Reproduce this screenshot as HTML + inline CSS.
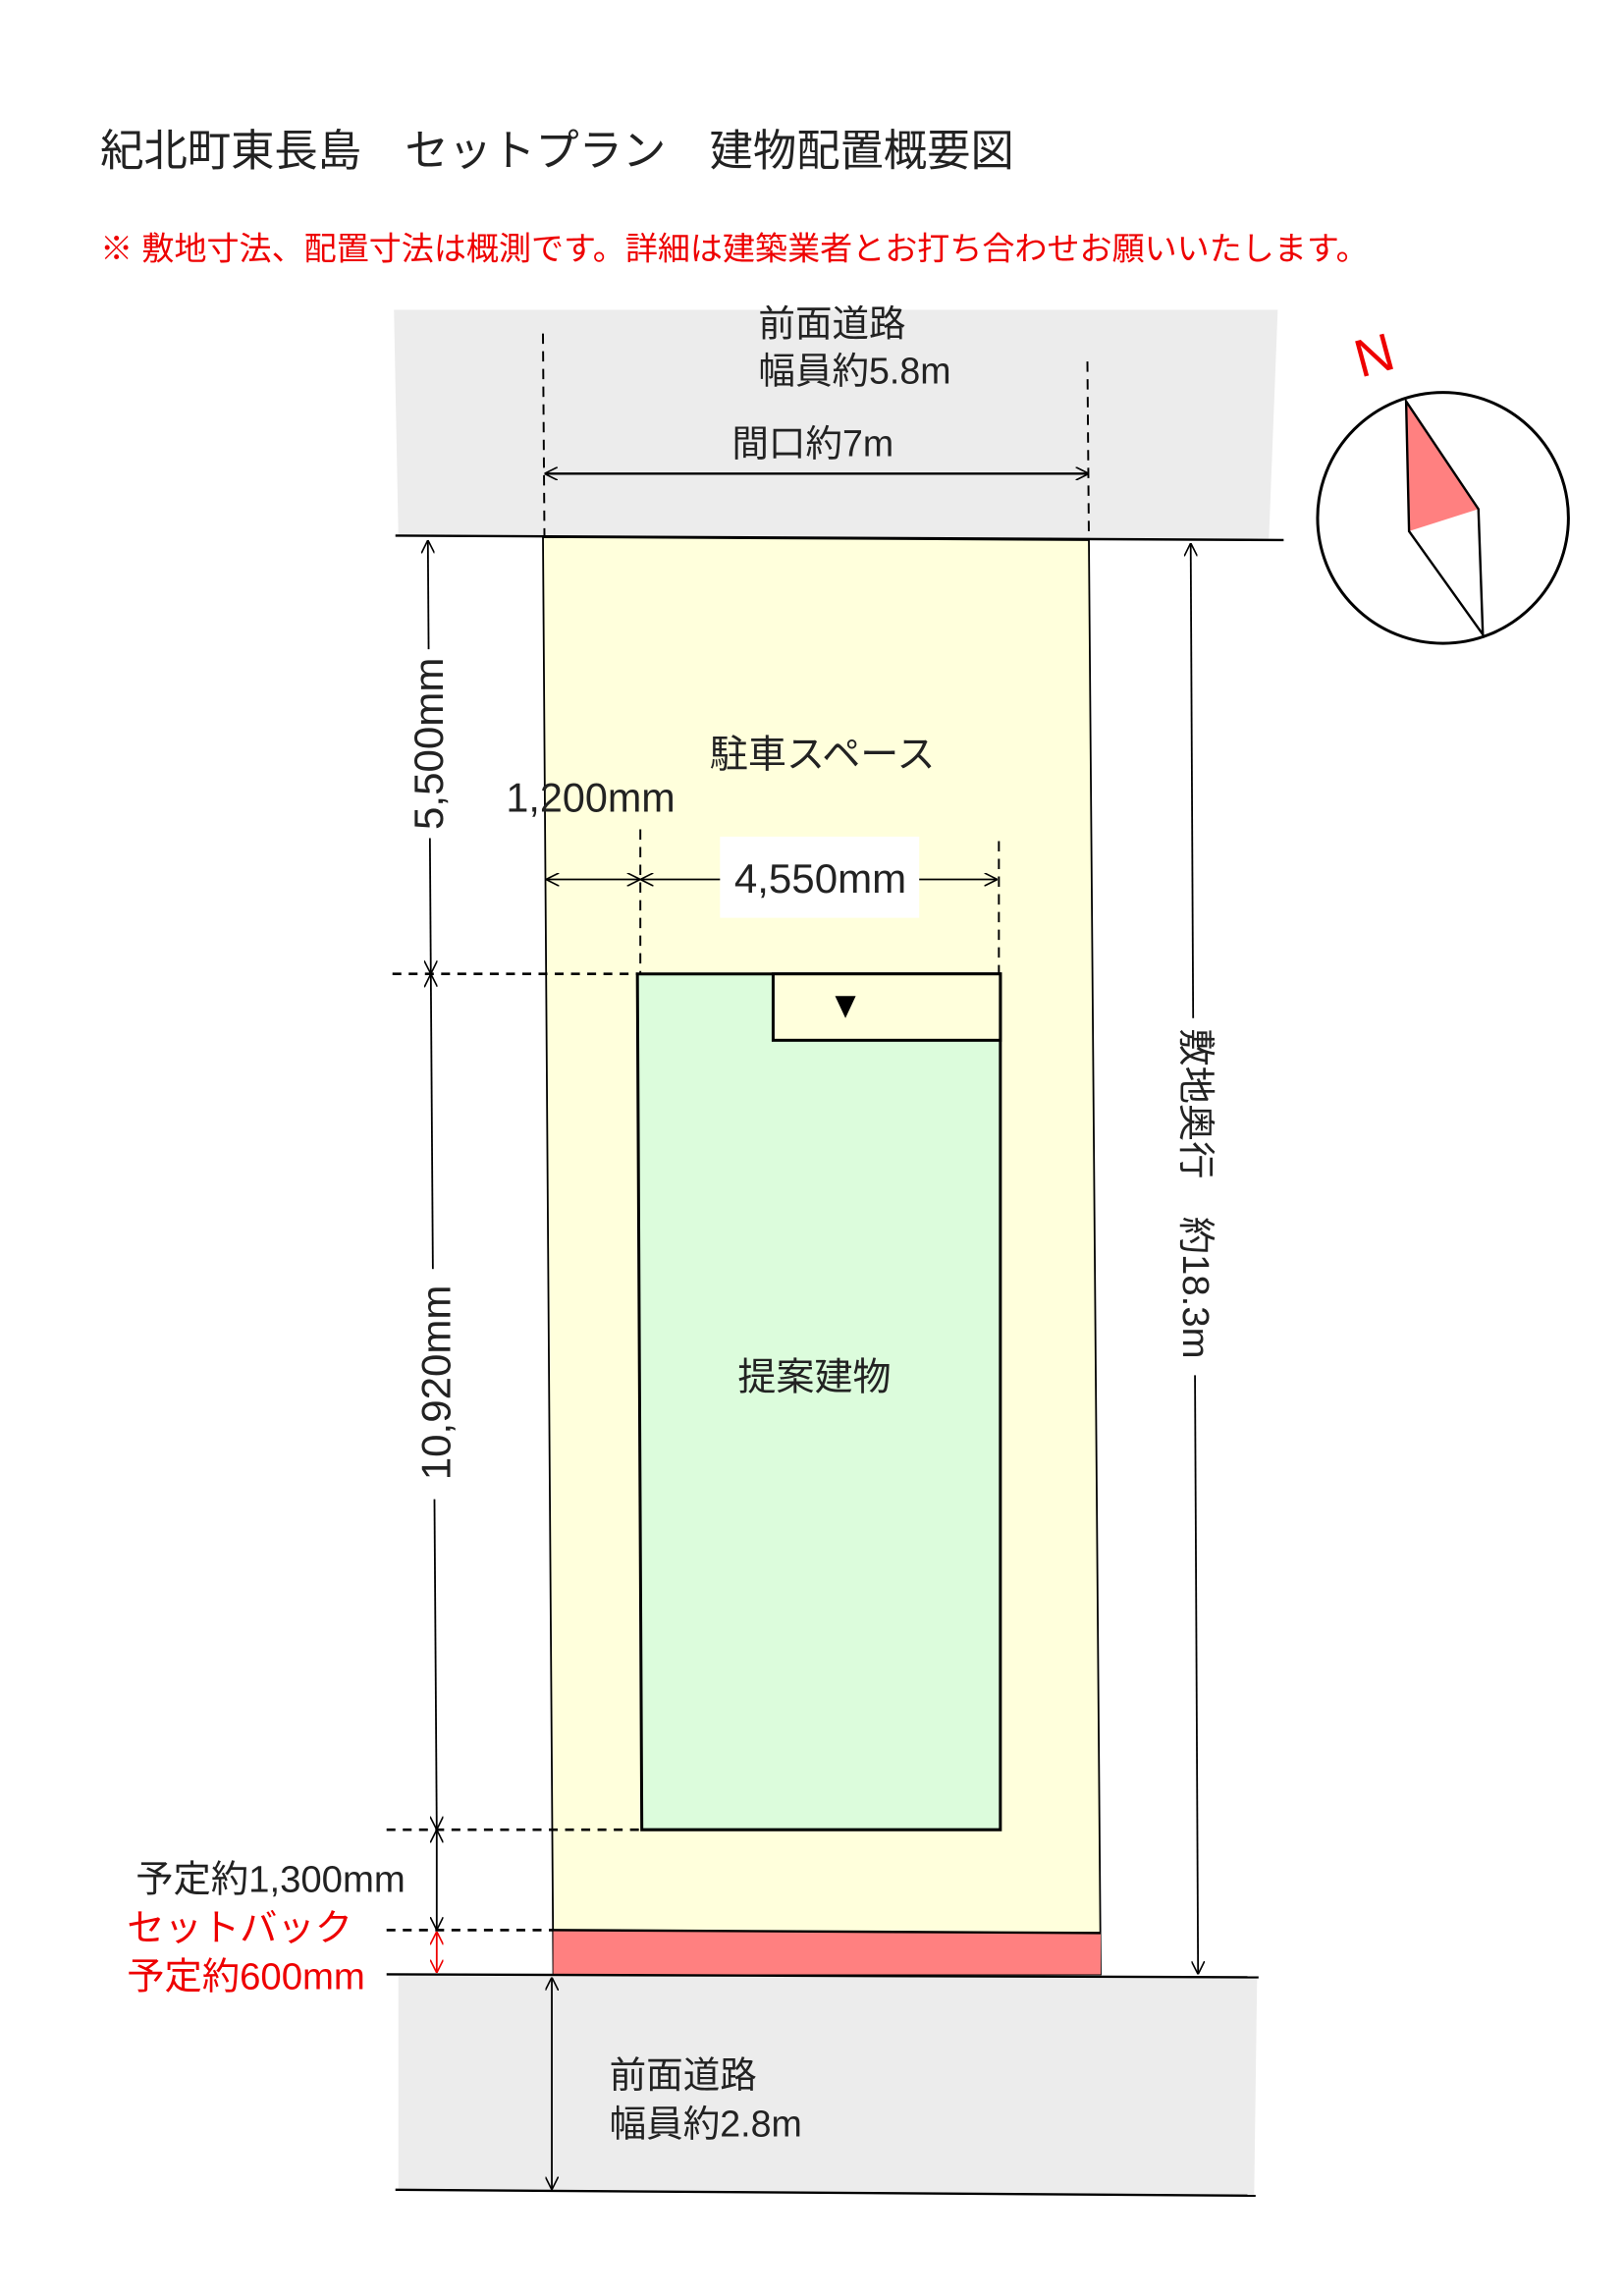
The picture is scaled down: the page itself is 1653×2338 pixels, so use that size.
<!DOCTYPE html>
<html><head><meta charset="utf-8"><style>
html,body{margin:0;padding:0;background:#fff;}
svg{display:block;}
text{font-family:"Liberation Sans","Noto Sans CJK JP",sans-serif;}
</style></head><body>
<svg width="1653" height="2338" viewBox="0 0 1100 1556" preserveAspectRatio="none" xmlns="http://www.w3.org/2000/svg">
<defs>
<marker id="a" viewBox="0 0 10 10" refX="10" refY="5" markerWidth="9" markerHeight="9" orient="auto-start-reverse" markerUnits="userSpaceOnUse"><path d="M0,0 L10,5 L0,10" fill="none" stroke="#000" stroke-width="1.2"/></marker>
<marker id="r" viewBox="0 0 10 10" refX="10" refY="5" markerWidth="9" markerHeight="9" orient="auto-start-reverse" markerUnits="userSpaceOnUse"><path d="M0,0 L10,5 L0,10" fill="none" stroke="#e00" stroke-width="1.2"/></marker>
</defs>
<text x="68" y="112" font-size="29.5" fill="#222">紀北町東長島　セットプラン　建物配置概要図</text>
<text x="68" y="176" font-size="22" fill="#e00">※ 敷地寸法、配置寸法は概測です。詳細は建築業者とお打ち合わせお願いいたします。</text>
<!-- top road -->
<polygon points="267,210 866,210 860,365 270,363" fill="#ececec"/>
<line x1="268" y1="363" x2="870" y2="366" stroke="#000" stroke-width="1.6"/>
<text x="514" y="228" font-size="25" fill="#222">前面道路</text>
<text x="514" y="260" font-size="25" fill="#222">幅員約5.8m</text>
<text x="496" y="309" font-size="25" fill="#222">間口約7m</text>
<line x1="368" y1="226" x2="369" y2="364" stroke="#000" stroke-width="1.3" stroke-dasharray="7,5"/>
<line x1="737" y1="245" x2="738" y2="366" stroke="#000" stroke-width="1.3" stroke-dasharray="7,5"/>
<line x1="369" y1="321" x2="738" y2="321" stroke="#000" stroke-width="1.6" marker-start="url(#a)" marker-end="url(#a)"/>
<!-- lot -->
<polygon points="368,364 738,366 746,1338 375,1338" fill="#ffffdc" stroke="#000" stroke-width="1.2"/>
<polygon points="375,1308 746,1310 746,1338 375,1338" fill="#ff8080"/>
<line x1="375" y1="1308" x2="746" y2="1310" stroke="#000" stroke-width="1.6"/>
<!-- bottom road -->
<polygon points="270,1339 852,1340 850,1488 270,1484" fill="#ececec"/>
<line x1="262" y1="1338" x2="853" y2="1340" stroke="#000" stroke-width="1.6"/>
<line x1="268" y1="1484" x2="851" y2="1488" stroke="#000" stroke-width="1.6"/>
<line x1="374" y1="1340" x2="374" y2="1484" stroke="#000" stroke-width="1.2" marker-start="url(#a)" marker-end="url(#a)"/>
<text x="413" y="1415" font-size="25" fill="#222">前面道路</text>
<text x="413" y="1448" font-size="25" fill="#222">幅員約2.8m</text>
<!-- building -->
<polygon points="432,660 678,660 678,1240 435,1240" fill="#dcfcdc" stroke="#000" stroke-width="2"/>
<rect x="524" y="660" width="154" height="45" fill="#ffffdc" stroke="#000" stroke-width="2"/>
<polygon points="566,675 580,675 573,690" fill="#000"/>
<text x="500" y="942" font-size="26" fill="#222">提案建物</text>
<text x="481" y="520" font-size="26" fill="#222">駐車スペース</text>
<!-- top horizontal dims -->
<line x1="434" y1="562" x2="434" y2="660" stroke="#000" stroke-width="1.3" stroke-dasharray="7,5"/>
<line x1="677" y1="570" x2="677" y2="660" stroke="#000" stroke-width="1.3" stroke-dasharray="7,5"/>
<line x1="370" y1="596" x2="434" y2="596" stroke="#000" stroke-width="1.2" marker-start="url(#a)" marker-end="url(#a)"/>
<line x1="434" y1="596" x2="676" y2="596" stroke="#000" stroke-width="1.2" marker-start="url(#a)" marker-end="url(#a)"/>
<rect x="488" y="567" width="135" height="55" fill="#fff"/>
<text x="556" y="605" font-size="28" fill="#222" text-anchor="middle">4,550mm</text>
<text x="343" y="550" font-size="27.5" fill="#222">1,200mm</text>
<!-- left dims -->
<line x1="266" y1="660" x2="432" y2="660" stroke="#000" stroke-width="1.8" stroke-dasharray="6,5"/>
<line x1="262" y1="1240" x2="435" y2="1240" stroke="#000" stroke-width="1.8" stroke-dasharray="6,5"/>
<line x1="262" y1="1308" x2="375" y2="1308" stroke="#000" stroke-width="1.8" stroke-dasharray="6,5"/>
<line x1="290" y1="366" x2="292" y2="660" stroke="#000" stroke-width="1.2" marker-start="url(#a)" marker-end="url(#a)"/>
<line x1="292" y1="660" x2="296" y2="1240" stroke="#000" stroke-width="1.2" marker-start="url(#a)" marker-end="url(#a)"/>
<line x1="296" y1="1240" x2="296" y2="1308" stroke="#000" stroke-width="1.2" marker-start="url(#a)" marker-end="url(#a)"/>
<line x1="296" y1="1309" x2="296" y2="1337" stroke="#e00" stroke-width="1.2" marker-start="url(#r)" marker-end="url(#r)"/>
<rect x="274" y="440" width="32" height="128" fill="#fff"/>
<text transform="translate(300,504) rotate(-90)" font-size="28" fill="#222" text-anchor="middle">5,500mm</text>
<rect x="278" y="860" width="32" height="156" fill="#fff"/>
<text transform="translate(305,937) rotate(-90)" font-size="28" fill="#222" text-anchor="middle">10,920mm</text>
<text x="92" y="1282" font-size="25.5" fill="#222">予定約1,300mm</text>
<text x="86" y="1315" font-size="25.5" fill="#e00">セットバック</text>
<text x="86" y="1348" font-size="25.5" fill="#e00">予定約600mm</text>
<!-- right dim -->
<line x1="807" y1="368" x2="812" y2="1338" stroke="#000" stroke-width="1.2" marker-start="url(#a)" marker-end="url(#a)"/>
<rect x="794" y="690" width="36" height="242" fill="#fff"/>
<text transform="translate(802,697) rotate(90)" font-size="25.5" fill="#222">敷地奥行　約18.3m</text>
<!-- compass -->
<ellipse cx="978" cy="351" rx="85" ry="85" fill="#fff" stroke="#000" stroke-width="2"/>
<polygon points="953,272 1002,345 955,360" fill="#ff8080"/>
<polygon points="953,272 1002,345 1005,430 955,360" fill="none" stroke="#000" stroke-width="1.6"/>
<text transform="translate(922,256) rotate(-15)" font-size="36" fill="#e00">N</text>
</svg>
</body></html>
